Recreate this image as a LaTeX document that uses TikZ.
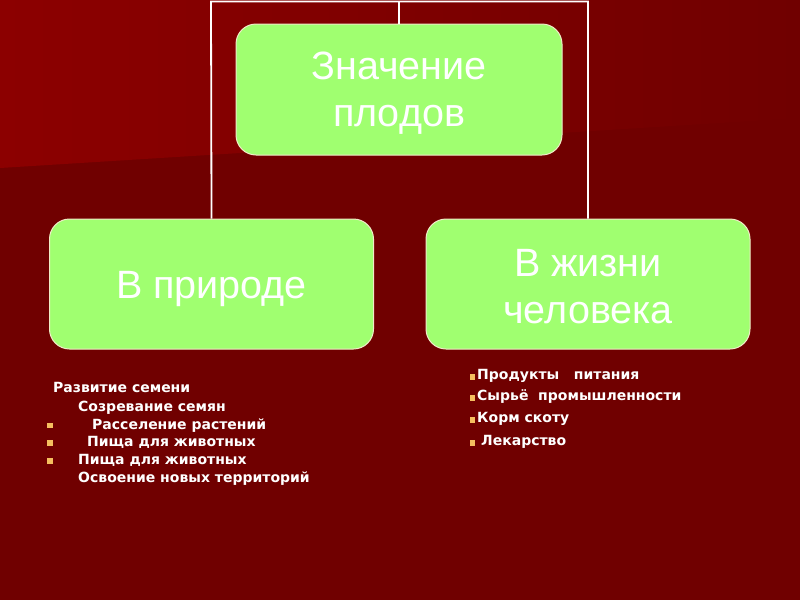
\documentclass[tikz,border=0pt]{standalone}
\usepackage{fontspec}
\setmainfont{Liberation Sans}
\newfontfamily\listfont{DejaVu Sans}
\definecolor{bgdark}{RGB}{112,0,0}
\definecolor{bglight}{RGB}{140,0,0}
\definecolor{boxgreen}{RGB}{160,255,112}
\definecolor{boxedge}{RGB}{240,235,200}
\definecolor{bulletc}{RGB}{245,190,95}
\tikzset{
  greenbox/.style={draw=boxedge, line width=1pt, fill=boxgreen, rounded corners=20pt,
    minimum width=324pt, minimum height=130pt, inner sep=0pt},
  boxtext/.style={align=center, inner sep=0pt, text=white, font=\fontsize{39.5}{47}\selectfont},
  conn/.style={draw=white, line width=1.8pt},
  item/.style={anchor=base west, inner sep=0pt, text=white, font=\listfont\bfseries\fontsize{14}{16}\selectfont},
  bul/.style={fill=bulletc, minimum size=5.5pt, inner sep=0pt, draw=none}
}
\begin{document}
\begin{tikzpicture}[x=1pt, y=-1pt]
\useasboundingbox (0,0) rectangle (800,600);
\fill[bgdark] (0,0) rectangle (800,600);
\shade[left color=bglight, right color=bgdark] (0,0) -- (800,0) -- (800,118) -- (0,168) -- cycle;
% connectors
\coordinate (tl) at (211,1.5);
\coordinate (tr) at (588,1.5);
\node[greenbox, minimum width=326pt, minimum height=131pt] (top) at (399,89.5) {};
\node[greenbox] (left) at (211.5,284) {};
\node[greenbox] (right) at (588,284) {};
\node[boxtext] (toptext) at ([yshift=-4pt]top.center) {Значение\\плодов};
\node[boxtext] (lefttext) at ([yshift=-5pt]left.center) {В природе};
\node[boxtext] (righttext) at ([yshift=-3pt]right.center) {В жизни\\человека};
\draw[conn] (left.north) -- (tl) -- (tr) -- (right.north);
\draw[conn] (top.north) -- (top.north |- tl);
% left list
\node[item] (l1) at (53,392.5) {Развитие семени};
\node[item] (l2) at (78,411.5) {Созревание семян};
\node[item] (l3) at (92,429.5) {Расселение растений};
\node[item] (l4) at (87,446.5) {Пища для животных};
\node[item] (l5) at (78,464.5) {Пища для животных};
\node[item] (l6) at (78,482.5) {Освоение новых территорий};
\node[bul] (b3) at (50,425.5) {};
\node[bul] (b4) at (50,443) {};
\node[bul] (b5) at (50,461) {};
% right list
\node[item] (r1) at (477,379.5) {Продукты~~~питания};
\node[item] (r2) at (477,400.5) {Сырьё~~промышленности};
\node[item] (r3) at (477,422.5) {Корм скоту};
\node[item] (r4) at (481,445.5) {Лекарство};
\node[bul] (rb1) at (472.5,377) {};
\node[bul] (rb2) at (472.5,398) {};
\node[bul] (rb3) at (472.5,420) {};
\node[bul] (rb4) at (472.5,443) {};
\end{tikzpicture}
\end{document}
